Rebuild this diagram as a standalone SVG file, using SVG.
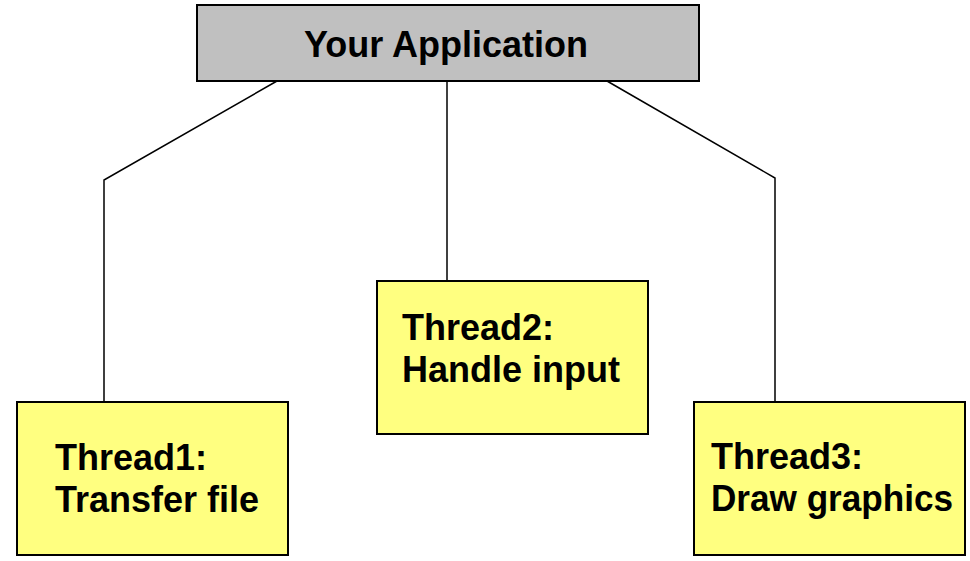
<svg xmlns="http://www.w3.org/2000/svg" width="970" height="561" viewBox="0 0 970 561">
  <style>
    .box { stroke: #000; stroke-width: 2; }
    .app { fill: #c0c0c0; }
    .thread { fill: #ffff80; }
    .label { font-family: "Liberation Sans", Arial, sans-serif; font-weight: bold; fill: #000; }
    .title { font-size: 36px; }
    .name { font-size: 36px; }
    .link { fill: none; stroke: #000; stroke-width: 1.5; }
  </style>
  <rect width="970" height="561" fill="#fff"/>
  <g id="connectors">
    <polyline class="link" points="277,81 104,180 104,402"/>
    <line class="link" x1="447" y1="81" x2="447" y2="281"/>
    <polyline class="link" points="607,81 775,178 775,402"/>
  </g>
  <g id="app">
    <rect class="box app" x="197" y="5" width="502" height="76"/>
    <text class="label title" x="446" y="57" text-anchor="middle">Your Application</text>
  </g>
  <g id="thread1">
    <rect class="box thread" x="17" y="402" width="271" height="153"/>
    <text class="label name" x="55" y="470">Thread1:</text>
    <text class="label name" x="55" y="512">Transfer file</text>
  </g>
  <g id="thread2">
    <rect class="box thread" x="377" y="281" width="271" height="153"/>
    <text class="label name" x="402" y="340">Thread2:</text>
    <text class="label name" x="402" y="382">Handle input</text>
  </g>
  <g id="thread3">
    <rect class="box thread" x="694" y="402" width="271" height="153"/>
    <text class="label name" x="711" y="469">Thread3:</text>
    <text class="label name" x="711" y="511" textLength="242" lengthAdjust="spacingAndGlyphs">Draw graphics</text>
  </g>
</svg>
